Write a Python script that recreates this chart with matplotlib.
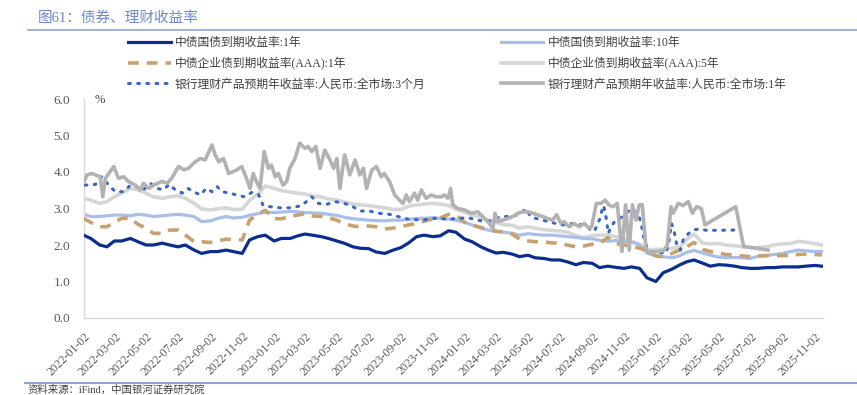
import pandas as pd
import numpy as np
import matplotlib
matplotlib.use("Agg")
import matplotlib.pyplot as plt
from matplotlib.lines import Line2D

plt.rcParams['font.family'] = ['Liberation Serif', 'Noto Sans CJK SC']

# -- data ------------------------------------------------------------
# bond yields, semi-monthly samples (1st / 15th of each month)
bond_dates = pd.date_range("2022-01-01", "2025-11-15", freq="SMS")

gov_1y = [
    2.27, 2.18, 2.00, 1.95, 2.11, 2.11, 2.18, 2.09, 2.00, 2.00, 2.05, 2.00, 1.95, 2.00, 1.86, 1.77, 1.82, 1.82, 1.86,
    1.82, 1.77, 2.14, 2.23, 2.27, 2.11, 2.18, 2.18, 2.25, 2.30, 2.27, 2.23, 2.18, 2.11, 2.05, 1.95, 1.91, 1.90,
    1.81, 1.77, 1.85, 1.93, 2.05, 2.23, 2.27, 2.23, 2.25, 2.39, 2.35, 2.16, 2.09, 1.95, 1.86, 1.78, 1.80, 1.75, 1.68,
    1.72, 1.65, 1.63, 1.59, 1.59, 1.54, 1.46, 1.52, 1.50, 1.38, 1.42, 1.39, 1.36, 1.40, 1.36, 1.10, 1.00, 1.24, 1.34,
    1.45, 1.54, 1.59, 1.50, 1.42, 1.46, 1.45, 1.42, 1.38, 1.36, 1.36, 1.38, 1.38, 1.40, 1.40, 1.40, 1.42, 1.44, 1.42,
]
gov_10y = [
    2.84, 2.78, 2.78, 2.80, 2.82, 2.82, 2.80, 2.84, 2.82, 2.78, 2.80, 2.82, 2.84, 2.82, 2.78, 2.64, 2.66, 2.73, 2.78,
    2.74, 2.76, 2.81, 2.86, 2.90, 2.89, 2.90, 2.92, 2.91, 2.89, 2.88, 2.87, 2.84, 2.81, 2.76, 2.72, 2.70, 2.68,
    2.67, 2.66, 2.68, 2.68, 2.70, 2.73, 2.73, 2.75, 2.73, 2.71, 2.68, 2.62, 2.55, 2.46, 2.41, 2.37, 2.35, 2.32, 2.27,
    2.31, 2.29, 2.27, 2.27, 2.25, 2.23, 2.21, 2.18, 2.17, 2.13, 2.10, 2.12, 2.10, 2.09, 2.00, 1.78, 1.70, 1.68, 1.65,
    1.70, 1.80, 1.85, 1.78, 1.72, 1.67, 1.65, 1.66, 1.65, 1.63, 1.69, 1.71, 1.74, 1.77, 1.82, 1.86, 1.84, 1.82, 1.82,
]
aaa_1y = [
    2.73, 2.62, 2.50, 2.50, 2.62, 2.73, 2.73, 2.57, 2.46, 2.32, 2.32, 2.41, 2.41, 2.27, 2.09, 2.09, 2.07, 2.11, 2.16,
    2.14, 2.14, 2.68, 2.85, 2.95, 2.72, 2.72, 2.78, 2.82, 2.86, 2.80, 2.78, 2.75, 2.68, 2.59, 2.52, 2.50, 2.52,
    2.50, 2.44, 2.46, 2.50, 2.55, 2.59, 2.65, 2.72, 2.74, 2.84, 2.82, 2.62, 2.55, 2.48, 2.42, 2.38, 2.36, 2.30, 2.16,
    2.11, 2.09, 2.08, 2.06, 2.05, 2.00, 1.95, 1.97, 2.02, 2.05, 2.20, 2.05, 2.00, 1.98, 1.91, 1.85, 1.70, 1.68, 1.77,
    1.86, 1.95, 2.07, 1.88, 1.82, 1.78, 1.74, 1.72, 1.70, 1.68, 1.70, 1.71, 1.71, 1.71, 1.72, 1.74, 1.75, 1.74, 1.73,
]
aaa_5y = [
    3.28, 3.23, 3.14, 3.19, 3.32, 3.42, 3.55, 3.51, 3.42, 3.32, 3.28, 3.32, 3.35, 3.28, 3.14, 2.99, 2.96, 2.99, 3.02,
    2.97, 2.98, 3.22, 3.40, 3.62, 3.55, 3.49, 3.45, 3.42, 3.40, 3.34, 3.32, 3.26, 3.23, 3.18, 3.12, 3.10, 3.08,
    3.05, 3.02, 2.98, 2.97, 3.06, 3.10, 3.12, 3.14, 3.12, 3.08, 2.98, 2.90, 2.82, 2.76, 2.68, 2.62, 2.56, 2.54, 2.46,
    2.50, 2.46, 2.42, 2.40, 2.38, 2.35, 2.26, 2.20, 2.26, 2.27, 2.27, 2.23, 2.19, 2.10, 2.02, 1.87, 1.88, 1.88, 1.91,
    1.93, 2.15, 2.30, 2.05, 2.03, 2.04, 2.00, 1.98, 1.95, 1.93, 1.93, 1.95, 2.00, 2.03, 2.04, 2.10, 2.08, 2.04, 2.00,
]

# bank wealth products, 3-month expected yield (irregular observations)
wm3m_dates = [
    "2022-01-04", "2022-01-24", "2022-02-05", "2022-02-21", "2022-03-03", "2022-03-19", "2022-04-01", "2022-04-13",
    "2022-04-26", "2022-05-09", "2022-05-22", "2022-06-03", "2022-06-14", "2022-06-26", "2022-07-09", "2022-07-20",
    "2022-07-31", "2022-08-13", "2022-08-24", "2022-09-04", "2022-09-14", "2022-09-23", "2022-10-09", "2022-10-21",
    "2022-11-06", "2022-11-19", "2022-12-02", "2022-12-11", "2022-12-24", "2023-01-12", "2023-02-03", "2023-02-23",
    "2023-03-04", "2023-03-14", "2023-03-27", "2023-04-11", "2023-04-27", "2023-05-16", "2023-06-01", "2023-06-14",
    "2023-07-03", "2023-07-19", "2023-08-07", "2023-08-26", "2023-09-14", "2023-10-10", "2023-11-04", "2023-11-30",
    "2023-12-22", "2024-01-07", "2024-01-26", "2024-02-14", "2024-03-11", "2024-03-30", "2024-04-12", "2024-04-28",
    "2024-05-05", "2024-05-16", "2024-06-04", "2024-06-23", "2024-07-06", "2024-07-19", "2024-08-07", "2024-08-23",
    "2024-08-29", "2024-09-05", "2024-09-11", "2024-09-16", "2024-09-19", "2024-09-23", "2024-09-27", "2024-10-02",
    "2024-10-07", "2024-10-13", "2024-10-19", "2024-10-29", "2024-11-08", "2024-11-16", "2024-11-22", "2024-11-30",
    "2024-12-05", "2024-12-09", "2024-12-16", "2024-12-25", "2025-01-07", "2025-01-20", "2025-01-26", "2025-01-31",
    "2025-02-05", "2025-02-10", "2025-02-17", "2025-02-23", "2025-03-05", "2025-03-14", "2025-03-24", "2025-04-09",
    "2025-06-01",
]
wm3m_vals = [
    3.64, 3.66, 3.87, 3.60, 3.46, 3.46, 3.64, 3.60,
    3.51, 3.69, 3.55, 3.51, 3.66, 3.51, 3.42, 3.55,
    3.46, 3.37, 3.55, 3.46, 3.60, 3.46, 3.42, 3.37,
    3.32, 3.44, 3.39, 3.08, 3.05, 3.02, 3.02, 3.08,
    3.19, 3.32, 3.14, 3.11, 3.19, 3.14, 3.05, 2.93,
    2.93, 2.87, 2.85, 2.78, 2.71, 2.68, 2.73, 2.71,
    2.73, 2.75, 2.68, 2.64, 2.78, 2.78, 2.83, 2.99,
    2.80, 2.73, 2.66, 2.59, 2.55, 2.59, 2.57, 2.50,
    2.41, 2.37, 2.55, 2.73, 2.91, 3.08, 2.82, 2.32,
    2.50, 2.62, 2.68, 2.78, 2.91, 3.00, 2.91, 2.78,
    2.50, 2.18, 1.91, 1.80, 1.80, 1.77, 2.09, 2.59,
    2.37, 2.00, 1.86, 2.18, 2.32, 2.41, 2.44, 2.40,
    2.41,
]

# bank wealth products, 1-year expected yield
wm1y_dates = [
    "2022-01-02", "2022-01-08", "2022-01-17", "2022-02-02", "2022-02-07", "2022-02-12", "2022-02-21", "2022-02-28",
    "2022-03-09", "2022-03-19", "2022-03-28", "2022-04-10", "2022-04-20", "2022-04-26", "2022-05-06", "2022-05-15",
    "2022-05-31", "2022-06-10", "2022-06-19", "2022-07-02", "2022-07-12", "2022-07-21", "2022-08-03", "2022-08-13",
    "2022-08-22", "2022-09-04", "2022-09-10", "2022-09-17", "2022-09-26", "2022-10-06", "2022-10-21", "2022-10-31",
    "2022-11-09", "2022-11-16", "2022-11-22", "2022-11-28", "2022-12-05", "2022-12-13", "2022-12-21", "2022-12-27",
    "2023-01-03", "2023-01-09", "2023-01-18", "2023-01-25", "2023-01-31", "2023-02-10", "2023-02-19", "2023-03-01",
    "2023-03-07", "2023-03-14", "2023-03-22", "2023-03-30", "2023-04-08", "2023-04-18", "2023-04-25", "2023-05-01",
    "2023-05-07", "2023-05-16", "2023-05-26", "2023-06-05", "2023-06-14", "2023-06-21", "2023-06-27", "2023-07-07",
    "2023-07-16", "2023-07-25", "2023-07-31", "2023-08-10", "2023-08-20", "2023-08-29", "2023-09-05", "2023-09-11",
    "2023-09-17", "2023-09-27", "2023-10-03", "2023-10-10", "2023-10-19", "2023-10-29", "2023-11-07", "2023-11-17",
    "2023-11-23", "2023-11-30", "2023-12-05", "2023-12-09", "2023-12-19", "2024-01-01", "2024-01-13", "2024-01-26",
    "2024-02-08", "2024-02-17", "2024-02-24", "2024-02-28", "2024-03-04", "2024-03-14", "2024-03-24", "2024-04-02",
    "2024-04-12", "2024-04-21", "2024-05-01", "2024-05-10", "2024-05-19", "2024-05-29", "2024-06-07", "2024-06-17",
    "2024-06-25", "2024-07-03", "2024-07-09", "2024-07-19", "2024-07-28", "2024-08-07", "2024-08-17", "2024-08-26",
    "2024-08-31", "2024-09-09", "2024-09-18", "2024-09-26", "2024-10-03", "2024-10-11", "2024-10-19", "2024-10-28",
    "2024-11-04", "2024-11-11", "2024-11-17", "2024-11-24", "2024-11-30", "2024-12-06", "2024-12-13", "2024-12-19",
    "2024-12-29", "2025-01-07", "2025-01-17", "2025-01-23", "2025-01-30", "2025-02-03", "2025-02-13", "2025-02-22",
    "2025-03-04", "2025-03-12", "2025-03-20", "2025-03-29", "2025-04-05", "2025-06-03", "2025-06-18", "2025-07-13",
    "2025-08-04",
]
wm1y_vals = [
    3.74, 3.92, 3.96, 3.87, 3.32, 3.83, 4.01, 4.15,
    3.83, 3.87, 3.74, 3.64, 3.51, 3.69, 3.55, 3.64,
    3.74, 3.69, 3.83, 4.15, 4.06, 4.10, 4.28, 4.37,
    4.33, 4.74, 4.47, 4.28, 4.37, 3.96, 4.05, 4.15,
    3.83, 3.55, 3.96, 3.74, 3.55, 4.56, 4.10, 4.19,
    3.87, 3.96, 3.64, 3.74, 4.10, 4.37, 4.79, 4.65,
    4.70, 4.56, 4.70, 4.10, 4.60, 4.33, 4.10, 4.37,
    3.55, 4.47, 3.92, 4.33, 3.92, 4.10, 3.55, 4.05,
    4.15, 3.87, 3.96, 3.74, 3.37, 3.23, 3.14, 3.37,
    3.19, 3.42, 3.23, 3.51, 3.28, 3.37, 3.32, 3.32,
    3.37, 3.28, 3.55, 3.10, 3.00, 2.96, 2.87, 2.91,
    2.73, 2.59, 2.45, 2.87, 2.64, 2.68, 2.73, 2.78,
    2.87, 2.91, 2.91, 2.87, 2.83, 2.78, 2.73, 2.68,
    2.83, 2.59, 2.64, 2.50, 2.59, 2.50, 2.59, 2.46,
    2.50, 3.14, 3.14, 3.23, 3.10, 3.05, 3.14, 1.82,
    3.10, 1.86, 3.10, 2.68, 3.10, 3.10, 1.91, 1.77,
    1.82, 1.82, 1.86, 2.00, 3.05, 2.87, 3.14, 3.08,
    3.19, 2.87, 3.05, 3.00, 2.55, 3.05, 1.96, 1.91,
    1.86,
]

labels = [
    "中债国债到期收益率:1年",
    "中债企业债到期收益率(AAA):1年",
    "银行理财产品预期年收益率:人民币:全市场:3个月",
    "中债国债到期收益率:10年",
    "中债企业债到期收益率(AAA):5年",
    "银行理财产品预期年收益率:人民币:全市场:1年",
]

tick_dates = pd.date_range("2022-01-02", "2025-11-02", freq=pd.DateOffset(months=2))

# -- plot setup -------------------------------------------------------
c_navy  = "#0B2D8E"
c_lblue = "#A7BFE9"
c_tan   = "#C8A170"
c_lgray = "#D6D6D6"
c_dot   = "#3B66C4"
c_gray  = "#B2B2B2"

fig = plt.figure(figsize=(8.57, 3.95), dpi=100)
ax = fig.add_axes([84 / 857, 77 / 395, 739 / 857, 219 / 395])

l_gov1y,  = ax.plot(bond_dates, gov_1y, color=c_navy, lw=2.3, zorder=6)
l_gov10y, = ax.plot(bond_dates, gov_10y, color=c_lblue, lw=2.3, zorder=2)
l_aaa1y,  = ax.plot(bond_dates, aaa_1y, color=c_tan, lw=2.6, ls=(0, (3, 2.2)), zorder=3)
l_aaa5y,  = ax.plot(bond_dates, aaa_5y, color=c_lgray, lw=2.6, zorder=1)
l_wm3m,   = ax.plot(pd.to_datetime(wm3m_dates), wm3m_vals, color=c_dot, lw=2.2,
                    ls=(0, (0.6, 2.4)), dash_capstyle="round", zorder=4)
l_wm1y,   = ax.plot(pd.to_datetime(wm1y_dates), wm1y_vals, color=c_gray, lw=2.6, zorder=5)

# -- axes -------------------------------------------------------------
ax.set_xlim(pd.Timestamp("2022-01-02"), pd.Timestamp("2025-11-17"))
ax.set_ylim(0, 6)
ax.set_yticks(np.arange(0, 6.01, 1.0))
ax.set_yticklabels([f"{v:.1f}" for v in np.arange(0, 6.01, 1.0)])
ax.set_xticks(tick_dates)
ax.set_xticklabels([d.strftime("%Y-%m-%d") for d in tick_dates], rotation=45,
                   ha="right", rotation_mode="anchor")
ax.tick_params(axis="y", length=0, pad=10, labelsize=9.5, labelcolor="#595959")
ax.tick_params(axis="x", length=0, pad=9, labelsize=8.5, labelcolor="#595959")

for s in ["top", "right"]:
    ax.spines[s].set_visible(False)
for s in ["left", "bottom"]:
    ax.spines[s].set_color("#D9D9D9")
    ax.spines[s].set_linewidth(1.0)

fig.text(100 / 857, 1 - 100 / 395, "%", ha="center", va="center", fontsize=9, color="#404040")

# -- legend -----------------------------------------------------------
handles = [l_gov1y, l_aaa1y, l_wm3m, l_gov10y, l_aaa5y, l_wm1y]
fig.legend(handles, labels, ncol=2, loc="upper left",
           bbox_to_anchor=(128 / 857, 1 - 37 / 395), frameon=False,
           fontsize=8.5, handlelength=3.6, handletextpad=0.35,
           labelspacing=0.7, columnspacing=6.4, borderpad=0, borderaxespad=0,
           labelcolor="#404040")

# -- title & frame lines ----------------------------------------------
fig.text(38 / 857, 1 - 18 / 395, "图61：债券、理财收益率", ha="left", va="center",
         fontsize=10.5, color="#7088C8")
fig.add_artist(Line2D([28 / 857, 1.0], [1 - 30 / 395] * 2, color="#8EA2D3", lw=1.2))
fig.add_artist(Line2D([25 / 857, 1.0], [1 - 383 / 395] * 2, color="#8EA2D3", lw=1.5))
fig.text(28 / 857, 1 - 389.5 / 395, "资料来源：iFind，中国银河证券研究院", ha="left", va="center",
         fontsize=7.5, color="#404040")

fig.savefig("out.png", dpi=100)
